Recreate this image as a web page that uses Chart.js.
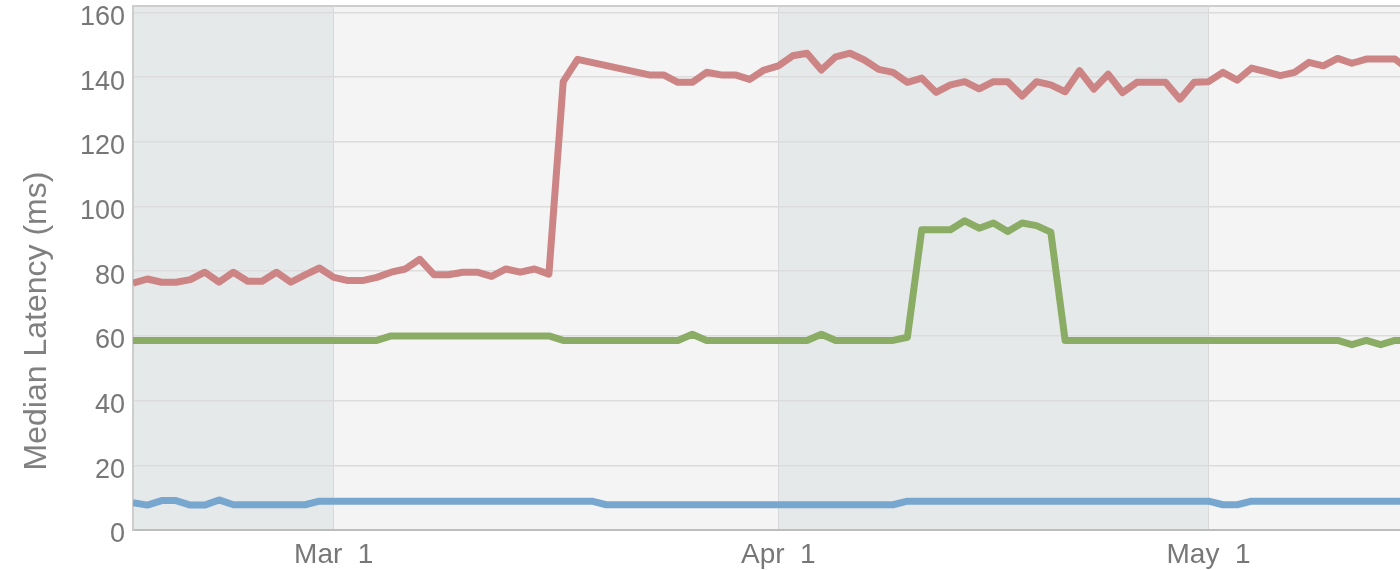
<!DOCTYPE html>
<html>
<head>
<meta charset="utf-8">
<script src="https://cdn.jsdelivr.net/npm/chart.js@4.4.1/dist/chart.umd.min.js"></script>
<style>
  html, body { margin: 0; padding: 0; background: #fff; }
  #wrap { width: 1400px; height: 570px; }
</style>
</head>
<body>
<div id="wrap"><canvas id="latencyChart" width="1400" height="570"></canvas></div>
<script>
// Day offsets relative to Mar 1 (Feb 15 = -14)
const days = [
  -14, -13, -12, -11, -10, -9, -8, -7, -6, -5, -4, -3, -2, -1,
  0, 1, 2, 3, 4, 5, 6, 7, 8, 9, 10, 11, 12, 13, 14, 15, 16, 17, 18, 19,
  20, 21, 22, 23, 24, 25, 26, 27, 28, 29, 30, 31, 32, 33, 34, 35, 36, 37,
  38, 39, 40, 41, 42, 43, 44, 45, 46, 47, 48, 49, 50, 51, 52, 53, 54, 55,
  56, 57, 58, 59, 60, 61, 62, 63, 64, 65, 66, 67, 68, 69, 70, 71, 72, 73,
  74, 75
];

const redLatency = [
  76.3, 77.6, 76.6, 76.6, 77.4, 79.7, 76.6, 79.7, 76.9, 76.9, 79.7, 76.6, 78.9, 81.0,
  78.1, 77.1, 77.1, 78.1, 79.7, 80.7, 83.7, 78.9, 78.9, 79.7, 79.7, 78.4, 80.7, 79.7,
  80.7, 79.1, 138.6, 145.5, null, null, null, null, 140.7, 140.7, 138.4, 138.4,
  141.5, 140.7, 140.7, 139.3, 142.2, 143.5, 146.6, 147.4, 142.2, 146.3, 147.4, 145.3,
  142.4, 141.5, 138.4, 139.7, 135.3, 137.6, 138.6, 136.4, 138.6, 138.6, 134.2, 138.6,
  137.6, 135.5, 142.0, 136.3, 140.9, 135.2, 138.4, 138.4, 138.4, 133.2, 138.4, 138.6,
  141.5, 139.1, 142.8, 141.7, 140.5, 141.5, 144.6, 143.5, 145.8, 144.3, 145.6, 145.6,
  145.6, 142.2
];

const greenLatency = [
  58.6, 58.6, 58.6, 58.6, 58.6, 58.6, 58.6, 58.6, 58.6, 58.6, 58.6, 58.6, 58.6, 58.6,
  58.6, 58.6, 58.6, 58.6, 60, 60, 60, 60, 60, 60, 60, 60, 60, 60, 60, 60,
  58.6, 58.6, 58.6, 58.6, 58.6, 58.6, 58.6, 58.6, 58.6, 60.5, 58.6, 58.6, 58.6, 58.6,
  58.6, 58.6, 58.6, 58.6, 60.5, 58.6, 58.6, 58.6, 58.6, 58.6, 59.6, 92.8, 92.8, 92.8,
  95.6, 93.3, 94.9, 92.3, 94.9, 94.1, 92.1, 58.6, 58.6, 58.6, 58.6, 58.6, 58.6, 58.6,
  58.6, 58.6, 58.6, 58.6, 58.6, 58.6, 58.6, 58.6, 58.6, 58.6, 58.6, 58.6, 58.6, 57.3,
  58.6, 57.3, 58.6, 58.6
];

const blueLatency = [
  8.4, 7.7, 9.1, 9.1, 7.7, 7.7, 9.3, 7.8, 7.8, 7.8, 7.8, 7.8, 7.8, 8.9,
  8.9, 8.9, 8.9, 8.9, 8.9, 8.9, 8.9, 8.9, 8.9, 8.9, 8.9, 8.9, 8.9, 8.9, 8.9, 8.9,
  8.9, 8.9, 8.9, 7.8, 7.8, 7.8, 7.8, 7.8, 7.8, 7.8, 7.8, 7.8, 7.8, 7.8, 7.8, 7.8,
  7.8, 7.8, 7.8, 7.8, 7.8, 7.8, 7.8, 7.8, 8.9, 8.9, 8.9, 8.9, 8.9, 8.9, 8.9, 8.9,
  8.9, 8.9, 8.9, 8.9, 8.9, 8.9, 8.9, 8.9, 8.9, 8.9, 8.9, 8.9, 8.9, 8.9, 7.8, 7.8,
  8.9, 8.9, 8.9, 8.9, 8.9, 8.9, 8.9, 8.9, 8.9, 8.9, 8.9, 8.9
];

// x ticks (month starts) and their labels
const tickDays = [0, 31, 61];
const tickLabels = ['Mar  1', 'Apr  1', 'May  1'];

// shaded month bands [from, to] in day offsets
const shadedMonths = [[-14, 0], [31, 61]];

const yTitle = 'Median Latency (ms)';
const FONT = '"Liberation Sans", Arial, sans-serif';

function toPoints(values) {
  return days.map((d, i) => ({ x: d, y: values[i] }));
}

// plot background: alternating month bands + top frame, and the y title
const bandsPlugin = {
  id: 'bands',
  beforeDraw(chart) {
    const { ctx, chartArea: a, scales } = chart;
    ctx.save();
    ctx.fillStyle = '#f4f4f4';
    ctx.fillRect(a.left, a.top, a.right - a.left, a.bottom - a.top);
    ctx.fillStyle = '#e6e9ea';
    shadedMonths.forEach(([from, to]) => {
      const x0 = Math.max(scales.x.getPixelForValue(from), a.left);
      const x1 = Math.min(scales.x.getPixelForValue(to), a.right);
      ctx.fillRect(x0, a.top, x1 - x0, a.bottom - a.top);
    });
    ctx.strokeStyle = '#cdcdcd';
    ctx.lineWidth = 2;
    ctx.beginPath();
    ctx.moveTo(a.left, a.top);
    ctx.lineTo(a.right, a.top);
    ctx.stroke();
    ctx.restore();
  },
  afterDraw(chart) {
    const { ctx } = chart;
    ctx.save();
    ctx.translate(37, 321);
    ctx.rotate(-Math.PI / 2);
    ctx.font = '32px ' + FONT;
    ctx.fillStyle = '#808080';
    ctx.textAlign = 'center';
    ctx.textBaseline = 'middle';
    ctx.fillText(yTitle, 0, 0);
    ctx.restore();
  }
};

function initChart() {
  const ctx = document.getElementById('latencyChart').getContext('2d');
  const lineOpts = { pointRadius: 0, borderWidth: 7, borderJoinStyle: 'round', tension: 0, spanGaps: true };

  new Chart(ctx, {
    type: 'line',
    data: {
      datasets: [
        { label: 'red', data: toPoints(redLatency), borderColor: '#cc8484', ...lineOpts },
        { label: 'green', data: toPoints(greenLatency), borderColor: '#8aac64', ...lineOpts },
        { label: 'blue', data: toPoints(blueLatency), borderColor: '#77a6cf', ...lineOpts }
      ]
    },
    options: {
      responsive: false,
      animation: false,
      devicePixelRatio: 1,
      layout: { padding: { top: 6, right: 0, bottom: 0, left: 0 } },
      plugins: {
        legend: { display: false },
        tooltip: { enabled: false }
      },
      scales: {
        x: {
          type: 'linear',
          min: -14,
          max: 74.35,
          afterBuildTicks: (scale) => { scale.ticks = tickDays.map(v => ({ value: v })); },
          afterFit: (scale) => {
            scale.height = 40;
            scale.paddingLeft = 0;
            scale.paddingRight = 0;
          },
          grid: { color: '#d9d9d9', lineWidth: 1, drawTicks: false },
          border: { color: '#bdbdbd', width: 2 },
          ticks: {
            padding: 8,
            maxRotation: 0,
            color: '#777',
            font: { family: FONT, size: 28 },
            callback: (v) => tickLabels[tickDays.indexOf(v)]
          }
        },
        y: {
          min: 0,
          max: 162,
          afterFit: (scale) => {
            scale.width = 133;
            scale.paddingTop = 0;
            scale.paddingBottom = 0;
          },
          grid: { color: '#dcdcdc', lineWidth: 1.5, drawTicks: false },
          border: { color: '#cdcdcd', width: 2 },
          ticks: {
            stepSize: 20,
            includeBounds: false,
            padding: 8,
            labelOffset: 5,
            color: '#777',
            font: { family: FONT, size: 27 }
          }
        }
      }
    },
    plugins: [bandsPlugin]
  });
}

document.addEventListener('DOMContentLoaded', initChart);
</script>
</body>
</html>
